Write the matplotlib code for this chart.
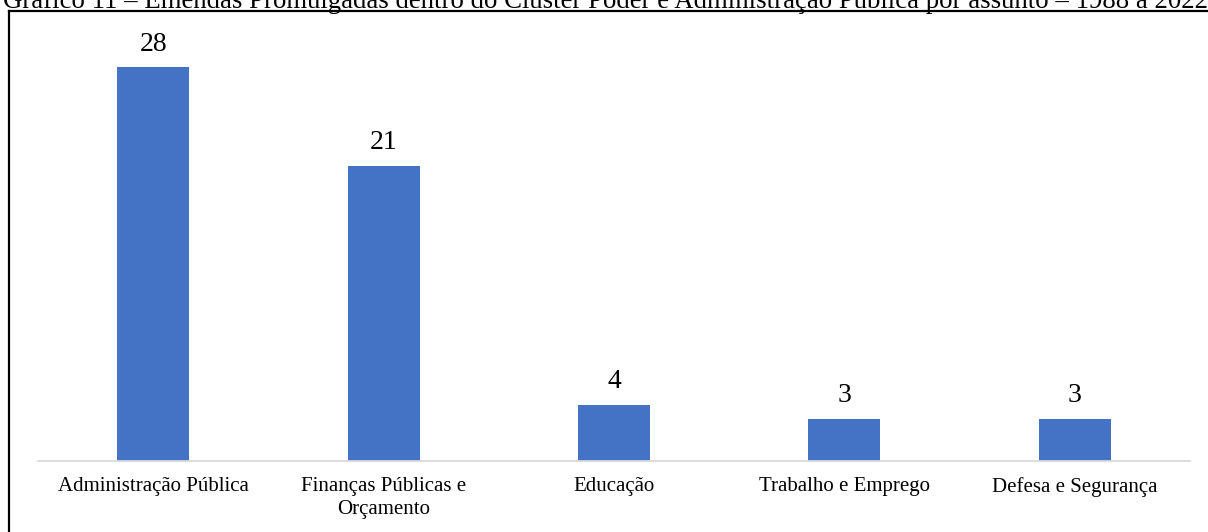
import matplotlib.pyplot as plt
from matplotlib.lines import Line2D

plt.rcParams['font.family'] = ['Liberation Serif', 'DejaVu Serif']

titulo = ("Gráfico 11 – Emendas Promulgadas dentro do Cluster Poder e "
          "Administração Pública por assunto – 1988 a 2022")
assuntos = ["Administração Pública", "Finanças Públicas e\nOrçamento",
            "Educação", "Trabalho e Emprego", "Defesa e Segurança"]
emendas = [28, 21, 4, 3, 3]

W, H = 1208, 532
fig = plt.figure(figsize=(W / 100, H / 100), dpi=100)

# plot area: x 38..1190 px, baseline at y=461 px
ax = fig.add_axes([38 / W, (H - 461) / H, (1190 - 38) / W, (461 - 67) / H])
x = range(len(assuntos))
bars = ax.bar(x, emendas, width=0.313, color="#4472C4")
ax.set_xlim(-0.5, len(assuntos) - 0.5)
ax.set_ylim(0, 28)

for b, v in zip(bars, emendas):
    ax.annotate(str(v), (b.get_x() + b.get_width() / 2, v),
                xytext=(0, 7.5), textcoords="offset points",
                ha="center", va="bottom", fontsize=20, color="#000000")

ax.set_xticks(list(x))
ax.set_xticklabels(assuntos, fontsize=15, linespacing=1.3)
ax.tick_params(axis="x", length=0, pad=11.5)
ax.set_yticks([])
for s in ["top", "right", "left"]:
    ax.spines[s].set_visible(False)
ax.spines["bottom"].set_color("#d9d9d9")
ax.spines["bottom"].set_linewidth(1.3)
ax.patch.set_alpha(0)

# outer frame of the figure box
fig.add_artist(Line2D([9 / W, 1.0], [(H - 11) / H] * 2, color="black", lw=1.6))
fig.add_artist(Line2D([9 / W] * 2, [0, (H - 11) / H], color="black", lw=1.6))

fig.text(3 / W, (H - 8) / H, titulo, ha="left", va="baseline", fontsize=19.3)

fig.savefig("out.png", dpi=100)
